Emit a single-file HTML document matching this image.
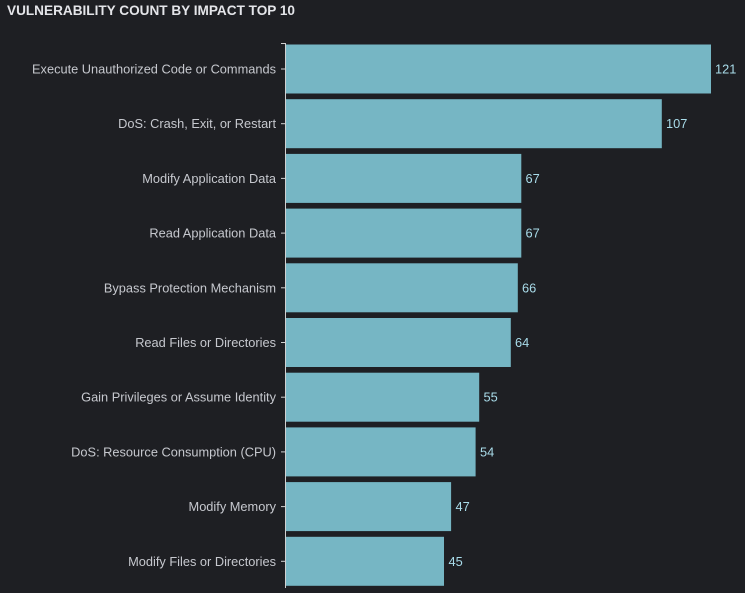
<!DOCTYPE html>
<html><head><style>
body{margin:0;background:#1e1f23;width:745px;height:588px;overflow:hidden;font-family:"Liberation Sans",sans-serif}
</style></head><body>
<svg width="745" height="588" xmlns="http://www.w3.org/2000/svg">
<rect width="745" height="588" fill="#1e1f23"/>
<text x="7" y="15" fill="#e4e5e9" font-size="14" font-weight="bold" textLength="288" lengthAdjust="spacingAndGlyphs">VULNERABILITY COUNT BY IMPACT TOP 10</text>
<line x1="285.5" y1="43" x2="285.5" y2="588" stroke="#d0d0d0" stroke-width="1"/>
<line x1="281" y1="43.5" x2="286" y2="43.5" stroke="#d0d0d0"/>
<g fill="#76b6c4">
<rect x="286" y="44.5" width="425" height="49"/>
<rect x="286" y="99.2" width="375.8" height="49"/>
<rect x="286" y="153.9" width="235.3" height="49"/>
<rect x="286" y="208.6" width="235.3" height="49"/>
<rect x="286" y="263.3" width="231.8" height="49"/>
<rect x="286" y="318" width="224.8" height="49"/>
<rect x="286" y="372.7" width="193.2" height="49"/>
<rect x="286" y="427.4" width="189.6" height="49"/>
<rect x="286" y="482.1" width="165.1" height="49"/>
<rect x="286" y="536.8" width="158" height="49"/>
</g>
<g stroke="#d0d0d0">
<line x1="281" y1="69" x2="286" y2="69"/>
<line x1="281" y1="123.7" x2="286" y2="123.7"/>
<line x1="281" y1="178.4" x2="286" y2="178.4"/>
<line x1="281" y1="233.1" x2="286" y2="233.1"/>
<line x1="281" y1="287.8" x2="286" y2="287.8"/>
<line x1="281" y1="342.5" x2="286" y2="342.5"/>
<line x1="281" y1="397.2" x2="286" y2="397.2"/>
<line x1="281" y1="451.9" x2="286" y2="451.9"/>
<line x1="281" y1="506.6" x2="286" y2="506.6"/>
<line x1="281" y1="561.3" x2="286" y2="561.3"/>
</g>
<g font-size="12.8" fill="#c6c8ce" text-anchor="end">
<text x="276" y="73.5">Execute Unauthorized Code or Commands</text>
<text x="276" y="128.2">DoS: Crash, Exit, or Restart</text>
<text x="276" y="182.9">Modify Application Data</text>
<text x="276" y="237.6">Read Application Data</text>
<text x="276" y="292.3">Bypass Protection Mechanism</text>
<text x="276" y="347">Read Files or Directories</text>
<text x="276" y="401.7">Gain Privileges or Assume Identity</text>
<text x="276" y="456.4">DoS: Resource Consumption (CPU)</text>
<text x="276" y="511.1">Modify Memory</text>
<text x="276" y="565.8">Modify Files or Directories</text>
</g>
<g font-size="12.8" fill="#a9dcea">
<text x="715" y="73.5">121</text>
<text x="666" y="128.2">107</text>
<text x="525.5" y="182.9">67</text>
<text x="525.5" y="237.6">67</text>
<text x="522" y="292.3">66</text>
<text x="515" y="347">64</text>
<text x="483.5" y="401.7">55</text>
<text x="480" y="456.4">54</text>
<text x="455.5" y="511.1">47</text>
<text x="448.5" y="565.8">45</text>
</g>
</svg>
</body></html>
